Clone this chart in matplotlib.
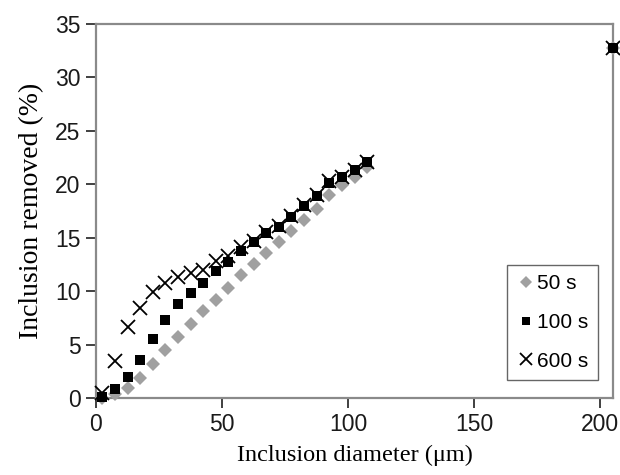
import matplotlib
matplotlib.use("Agg")
import matplotlib.pyplot as plt

x = [2.5, 7.5, 12.5, 17.5, 22.5, 27.5, 32.5, 37.5, 42.5, 47.5, 52.5, 57.5,
     62.5, 67.5, 72.5, 77.5, 82.5, 87.5, 92.5, 97.5, 102.5, 107.5, 205]
y50 = [0.0, 0.4, 0.9, 1.9, 3.2, 4.5, 5.7, 6.9, 8.1, 9.2, 10.3, 11.5,
       12.5, 13.6, 14.6, 15.6, 16.7, 17.7, 19.0, 19.9, 20.7, 21.6, 32.8]
y100 = [0.1, 0.8, 2.0, 3.6, 5.5, 7.3, 8.8, 9.8, 10.8, 11.9, 12.7, 13.8,
        14.6, 15.4, 16.0, 16.9, 18.0, 18.9, 20.1, 20.7, 21.3, 22.1, 32.8]
y600 = [0.5, 3.5, 6.6, 8.4, 9.9, 10.8, 11.3, 11.7, 12.0, 12.8, 13.3, 14.1,
        14.7, 15.5, 16.1, 17.0, 18.1, 19.0, 20.3, 20.7, 21.3, 22.1, 32.8]
labels = ["50 s", "100 s", "600 s"]
xticks = [0, 50, 100, 150, 200]
yticks = [0, 5, 10, 15, 20, 25, 30, 35]

fig = plt.figure(figsize=(6.2, 4.75), dpi=100)
ax = fig.add_axes([96/620, 1-398/475, (613-96)/620, (398-24)/475])

ax.plot(x, y50, linestyle="none", marker="D", markersize=7, color="#a0a0a0",
        markeredgewidth=0, label=labels[0], clip_on=False, zorder=3)
ax.plot(x, y100, linestyle="none", marker="s", markersize=7.5, color="black",
        markeredgewidth=0, label=labels[1], clip_on=False, zorder=4)
ax.plot(x, y600, linestyle="none", marker="x", markersize=10, color="black",
        markeredgewidth=1.3, label=labels[2], clip_on=False, zorder=5)

ax.set_xlim(0, 205)
ax.set_ylim(0, 35)
ax.set_xticks(xticks)
ax.set_yticks(yticks)
for s in ax.spines.values():
    s.set_color("#8a8a8a")
    s.set_linewidth(1.6)
ax.tick_params(direction="out", length=7, width=1.4, color="#404040",
               labelsize=16.5, pad=4)
for t in ax.get_xticklabels() + ax.get_yticklabels():
    t.set_family("Liberation Sans")
    t.set_color("#1a1a1a")

ax.set_xlabel("Inclusion diameter (\u03bcm)", family="Liberation Serif", fontsize=17.5, labelpad=6)
ax.set_ylabel("Inclusion removed (%)", family="Liberation Serif", fontsize=20, labelpad=8)

leg = ax.legend(loc="lower right", bbox_to_anchor=((598-96)/517, (398-380)/374),
                borderaxespad=0, frameon=True, fancybox=False,
                edgecolor="#404040", prop={"family": "Liberation Sans", "size": 15},
                handletextpad=0.1, handlelength=0.9, borderpad=0.45, labelspacing=0.95,
                markerscale=0.85)
leg.get_frame().set_linewidth(1.0)

fig.savefig("out.png", dpi=100)
